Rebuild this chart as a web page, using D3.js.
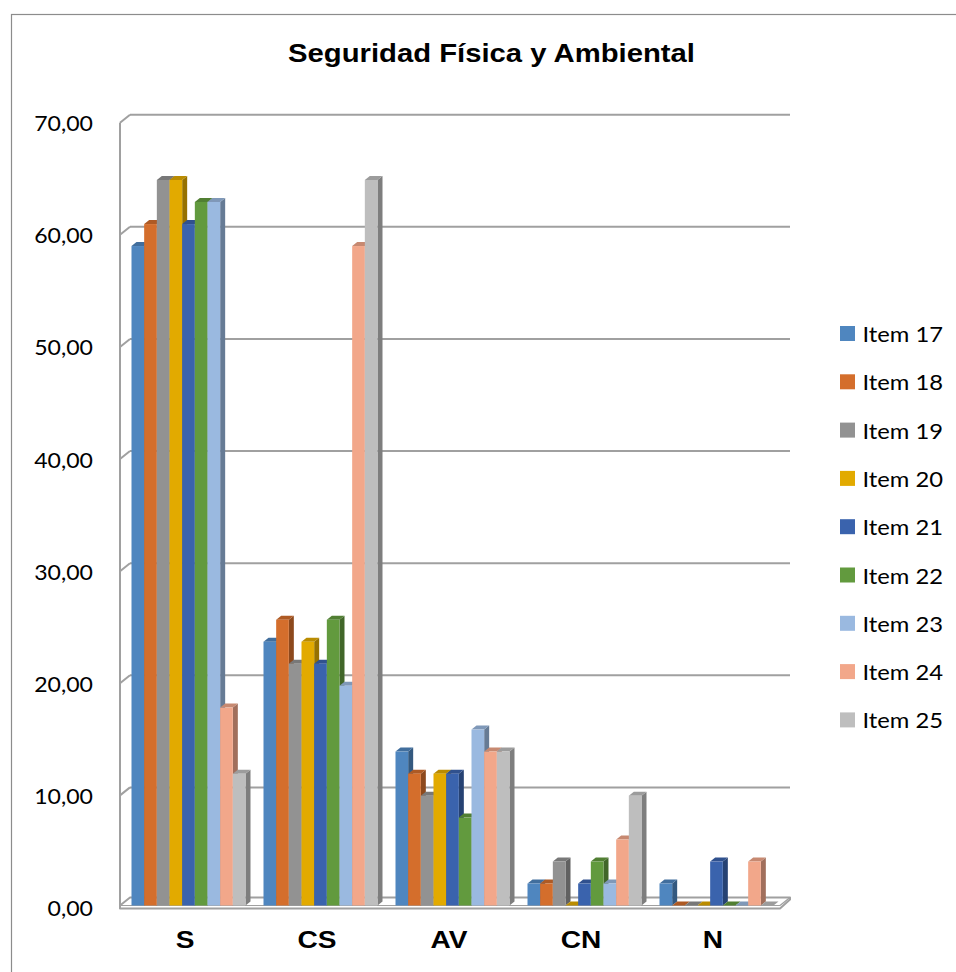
<!DOCTYPE html>
<html>
<head>
<meta charset="utf-8">
<script src="https://cdn.jsdelivr.net/npm/d3@7"></script>
<style>
  html, body { margin: 0; padding: 0; background: #fff; }
  svg { display: block; }
</style>
</head>
<body>
<svg id="chart" width="956" height="972"></svg>
<script>
// ---- data ----
const title = "Seguridad Física y Ambiental";
const categories = ["S", "CS", "AV", "CN", "N"];
const seriesNames = ["Item 17", "Item 18", "Item 19", "Item 20", "Item 21", "Item 22", "Item 23", "Item 24", "Item 25"];
const item17 = [58.82, 23.53, 13.73, 1.96, 1.96];
const item18 = [60.78, 25.49, 11.76, 1.96, 0];
const item19 = [64.71, 21.57, 9.80, 3.92, 0];
const item20 = [64.71, 23.53, 11.76, 0, 0];
const item21 = [60.78, 21.57, 11.76, 1.96, 3.92];
const item22 = [62.75, 25.49, 7.84, 3.92, 0];
const item23 = [62.75, 19.61, 15.69, 1.96, 0];
const item24 = [17.65, 58.82, 13.73, 5.88, 3.92];
const item25 = [11.76, 64.71, 13.73, 9.80, 0];
const seriesValues = [item17, item18, item19, item20, item21, item22, item23, item24, item25];
const yTicks = [0, 10, 20, 30, 40, 50, 60, 70];
const colors = ["#4F86BF", "#D46E2C", "#929292", "#E2AA00", "#3A63AD", "#629A3E", "#9AB9E0", "#F2A78A", "#BEBEBE"];

// ---- layout ----
const svg = d3.select("#chart");
const X0 = 120, X1 = 780;          // front plane x extent
const depthX = 10, depthY = -8;     // wall depth offset
const y = d3.scaleLinear().domain([0, 70]).range([907.5, 122.7]);
const x = d3.scaleBand().domain(categories).range([X0, X1]).paddingInner(0).paddingOuter(0);
const innerPad = 9;
const xs = d3.scaleBand().domain(seriesNames)
  .range([innerPad, x.bandwidth() - innerPad]).padding(0);
const gridColor = "#A0A0A0";

// outer border
svg.append("rect").attr("x", 11.5).attr("y", 14.5).attr("width", 980).attr("height", 990)
  .attr("fill", "none").attr("stroke", "#8C8C8C").attr("stroke-width", 1.2);

// title
const tG = svg.append("g").attr("transform", `translate(491.5,61.7)`);
const tT = tG.append("text").text(title)
  .attr("text-anchor", "middle")
  .attr("font-family", "'Liberation Sans', Arial, sans-serif")
  .attr("font-weight", "bold").attr("font-size", 25).attr("fill", "#000");
{
  const w = tT.node().getComputedTextLength();
  tT.attr("transform", `scale(${407 / w},1)`);
}

// back wall gridlines + side wall diagonals
const grid = svg.append("g");
yTicks.forEach(v => {
  if (v > 0) {
    grid.append("line")
      .attr("x1", X0 + depthX).attr("x2", X1 + depthX)
      .attr("y1", y(v) + depthY).attr("y2", y(v) + depthY)
      .attr("stroke", gridColor).attr("stroke-width", 2);
  }
  grid.append("line")
    .attr("x1", X0).attr("y1", y(v))
    .attr("x2", X0 + depthX).attr("y2", y(v) + depthY)
    .attr("stroke", gridColor).attr("stroke-width", 2);
});
// left front vertical axis
grid.append("line").attr("x1", X0).attr("x2", X0).attr("y1", y(70)).attr("y2", y(0) + 1)
  .attr("stroke", gridColor).attr("stroke-width", 2);

// floor (thin plate)
const fy = y(0);
svg.append("path")
  .attr("d", `M${X0},${fy - 2} L${X0 + depthX},${fy - 2 + depthY} L${X1 + depthX},${fy - 2 + depthY} L${X1 + depthX},${fy + depthY} L${X1},${fy + 1} L${X0},${fy + 1} Z`)
  .attr("fill", "#fff").attr("stroke", gridColor).attr("stroke-width", 2).attr("stroke-linejoin", "round");
svg.append("line").attr("x1", X1).attr("x2", X1 + depthX).attr("y1", fy - 2).attr("y2", fy - 2 + depthY)
  .attr("stroke", gridColor).attr("stroke-width", 1.5);
svg.append("line").attr("x1", X0).attr("x2", X1).attr("y1", fy - 2).attr("y2", fy - 2)
  .attr("stroke", gridColor).attr("stroke-width", 1.2);

// y tick labels
const yl = svg.append("g");
yTicks.forEach(v => {
  const g = yl.append("g").attr("transform", `translate(93,${y(v) + 8.5}) scale(1.05,1)`);
  g.append("text").text(d3.format(".2f")(v).replace(".", ","))
    .attr("text-anchor", "end")
    .attr("font-family", "Lato, 'Open Sans', sans-serif").attr("font-size", 22).attr("fill", "#000");
});

// bars (3D)
const t0 = 0.25, bd = 0.5; // bar front at depth 0.25, depth 0.5
const fdx = depthX * t0, fdy = depthY * t0;
const bdx = depthX * bd, bdy = depthY * bd;
const bars = svg.append("g");
categories.forEach((c, ci) => {
  seriesNames.forEach((s, si) => {
    const v = seriesValues[si][ci];
    const col = d3.color(colors[si]);
    const xl = x(c) + xs(s) + fdx;
    const xr = xl + xs.bandwidth();
    const yb = y(0) + fdy;
    const yt = y(v) + fdy;
    const g = bars.append("g");
    // side face
    g.append("path")
      .attr("d", `M${xr},${yb} L${xr + bdx},${yb + bdy} L${xr + bdx},${yt + bdy} L${xr},${yt} Z`)
      .attr("fill", col.darker(1.15));
    // top face
    g.append("path")
      .attr("d", `M${xl},${yt} L${xl + bdx},${yt + bdy} L${xr + bdx},${yt + bdy} L${xr},${yt} Z`)
      .attr("fill", col.darker(0.55));
    // front face
    g.append("rect").attr("x", xl).attr("y", yt).attr("width", xs.bandwidth()).attr("height", Math.max(0, yb - yt))
      .attr("fill", col);
  });
});

// category labels
const cl = svg.append("g");
categories.forEach(c => {
  const g = cl.append("g").attr("transform", `translate(${x(c) + x.bandwidth() / 2 - 1},948) scale(1.17,1)`);
  g.append("text").text(c).attr("text-anchor", "middle")
    .attr("font-family", "'Liberation Sans', Arial, sans-serif").attr("font-weight", "bold")
    .attr("font-size", 24).attr("fill", "#000");
});

// legend
const lg = svg.append("g");
seriesNames.forEach((s, i) => {
  const cy = 333.5 + i * 48.3;
  lg.append("rect").attr("x", 840).attr("y", cy - 7.5).attr("width", 15).attr("height", 15).attr("fill", colors[i]);
  const g = lg.append("g").attr("transform", `translate(862.5,${cy + 8.5}) scale(1.08,1)`);
  g.append("text").text(s).attr("font-family", "Lato, 'Open Sans', sans-serif")
    .attr("font-size", 22).attr("fill", "#000");
});
</script>
</body>
</html>
